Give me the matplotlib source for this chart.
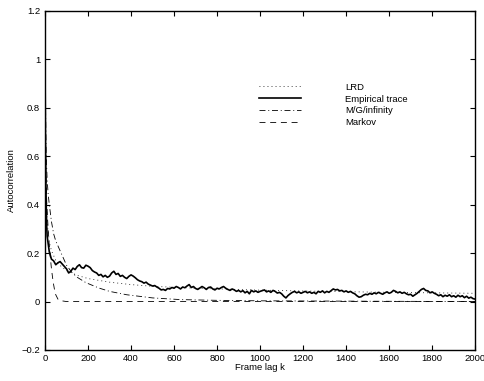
"""Autocorrelation of frame sizes: empirical trace against three fitted models.

One panel, MATLAB-era look: boxed axes, inward ticks on all four sides,
black lines told apart only by their dash pattern.
"""

import numpy as np
import matplotlib

matplotlib.use("Agg")
import matplotlib.pyplot as plt

plt.rcParams["font.family"] = ["Liberation Sans", "DejaVu Sans"]
plt.rcParams["font.size"] = 6.8
plt.rcParams["lines.scale_dashes"] = False

# --- data ------------------------------------------------------------------

# empirical trace: a few lags at the very start, then every 10 frames
emp_head_k = [0, 1, 2, 3, 4, 5, 6, 8]
emp_head_r = [1.0, 0.82, 0.68, 0.57, 0.49, 0.43, 0.38, 0.31]
emp_k = np.arange(10, 2001, 10)
emp_r = [
    0.27, 0.205, 0.175, 0.168, 0.152, 0.16, 0.165, 0.155, 0.145, 0.135,
    0.118, 0.125, 0.138, 0.132, 0.145, 0.152, 0.14, 0.138, 0.15, 0.146,
    0.14, 0.128, 0.122, 0.118, 0.108, 0.112, 0.102, 0.108, 0.1, 0.105,
    0.118, 0.125, 0.112, 0.116, 0.104, 0.108, 0.1, 0.095, 0.104, 0.11,
    0.105, 0.098, 0.09, 0.085, 0.082, 0.076, 0.08, 0.072, 0.068, 0.064,
    0.066, 0.06, 0.055, 0.048, 0.05, 0.046, 0.054, 0.052, 0.058, 0.055,
    0.062, 0.058, 0.052, 0.06, 0.057, 0.064, 0.07, 0.058, 0.062, 0.054,
    0.05, 0.056, 0.062, 0.057, 0.05, 0.058, 0.06, 0.052, 0.048, 0.055,
    0.052, 0.058, 0.062, 0.055, 0.05, 0.046, 0.052, 0.048, 0.042, 0.046,
    0.04, 0.045, 0.036, 0.042, 0.032, 0.046, 0.04, 0.044, 0.038, 0.042,
    0.045, 0.048, 0.04, 0.044, 0.038, 0.046, 0.042, 0.035, 0.038, 0.032,
    0.022, 0.015, 0.025, 0.032, 0.038, 0.042, 0.036, 0.04, 0.034, 0.038,
    0.042, 0.036, 0.04, 0.034, 0.038, 0.032, 0.042, 0.038, 0.044, 0.036,
    0.042, 0.038, 0.045, 0.052, 0.048, 0.05, 0.044, 0.046, 0.04, 0.044,
    0.038, 0.042, 0.036, 0.032, 0.024, 0.018, 0.02, 0.026, 0.03, 0.028,
    0.034, 0.03, 0.036, 0.032, 0.038, 0.034, 0.03, 0.036, 0.04, 0.034,
    0.038, 0.046, 0.042, 0.036, 0.04, 0.034, 0.038, 0.032, 0.028, 0.03,
    0.022, 0.028, 0.034, 0.042, 0.05, 0.054, 0.046, 0.044, 0.036, 0.04,
    0.034, 0.03, 0.024, 0.028, 0.02, 0.026, 0.022, 0.028, 0.02, 0.024,
    0.018, 0.026, 0.02, 0.024, 0.016, 0.022, 0.014, 0.018, 0.012, 0.01,
]

lrd_k = [0, 2, 5, 10, 20, 30, 50, 75, 100, 150, 200, 300, 400, 500, 700,
         1000, 1300, 1600, 2000]
lrd_r = [1.0, 0.64, 0.43, 0.325, 0.245, 0.21, 0.17, 0.145, 0.128, 0.108,
         0.095, 0.08, 0.07, 0.063, 0.055, 0.047, 0.042, 0.038, 0.034]

mg_k = [0, 5, 10, 15, 20, 30, 40, 50, 60, 80, 100, 125, 150, 190, 250, 300,
        380, 500, 630, 800, 1000, 1300, 1600, 2000]
mg_r = [1.0, 0.62, 0.5, 0.44, 0.4, 0.33, 0.28, 0.25, 0.23, 0.19, 0.15, 0.12,
        0.1, 0.078, 0.056, 0.042, 0.028, 0.015, 0.008, 0.005, 0.003, 0.002,
        0.001, 0.0]

markov_k = [0, 4, 8, 12, 16, 20, 25, 30, 35, 40, 45, 50, 60, 70, 100, 2000]
markov_r = [1.0, 0.55, 0.41, 0.34, 0.28, 0.23, 0.18, 0.135, 0.1, 0.07, 0.045,
            0.028, 0.01, 0.004, 0.0, 0.0]

yticks = [-0.2, 0, 0.2, 0.4, 0.6, 0.8, 1, 1.2]
ytick_labels = ["\u22120.2", "0", "0.2", "0.4", "0.6", "0.8", "1", "1.2"]
xticks = [0, 200, 400, 600, 800, 1000, 1200, 1400, 1600, 1800, 2000]

# --- figure ----------------------------------------------------------------

fig = plt.figure(figsize=(4.85, 3.81), dpi=100)
ax = fig.add_axes([0.0928, 0.0814, 0.887, 0.89])

ax.plot(lrd_k, lrd_r, color="black", lw=0.6, ls=(0, (0.6, 2.3)), label="LRD")
ax.plot(emp_head_k + list(emp_k), emp_head_r + emp_r, color="black", lw=1.2,
        label="Empirical trace")
ax.plot(mg_k, mg_r, color="black", lw=0.6, ls=(0, (4.3, 2.0, 0.7, 2.0)),
        label="M/G/infinity")
ax.plot(markov_k, markov_r, color="black", lw=0.6, ls=(0, (4.3, 3.4)),
        label="Markov")

ax.set_xlim(0, 2000)
ax.set_ylim(-0.2, 1.2)
ax.set_xticks(xticks)
ax.set_yticks(yticks)
ax.set_yticklabels(ytick_labels)
ax.tick_params(direction="in", length=3.5, width=0.8, top=True, right=True,
               colors="black", labelsize=6.8)
ax.tick_params(axis="y", pad=3.5)
ax.tick_params(axis="x", pad=3)
for spine in ax.spines.values():
    spine.set_linewidth(1.0)

ax.set_xlabel("Frame lag k", labelpad=0)
ax.set_ylabel("Autocorrelation", labelpad=4)

ax.legend(loc="upper left", bbox_to_anchor=(0.497, 0.788), frameon=False,
          borderaxespad=0, borderpad=0, handlelength=4.5, handletextpad=4.6,
          labelspacing=0.3, fontsize=6.8)

fig.savefig("out.png", dpi=100)
plt.close(fig)
